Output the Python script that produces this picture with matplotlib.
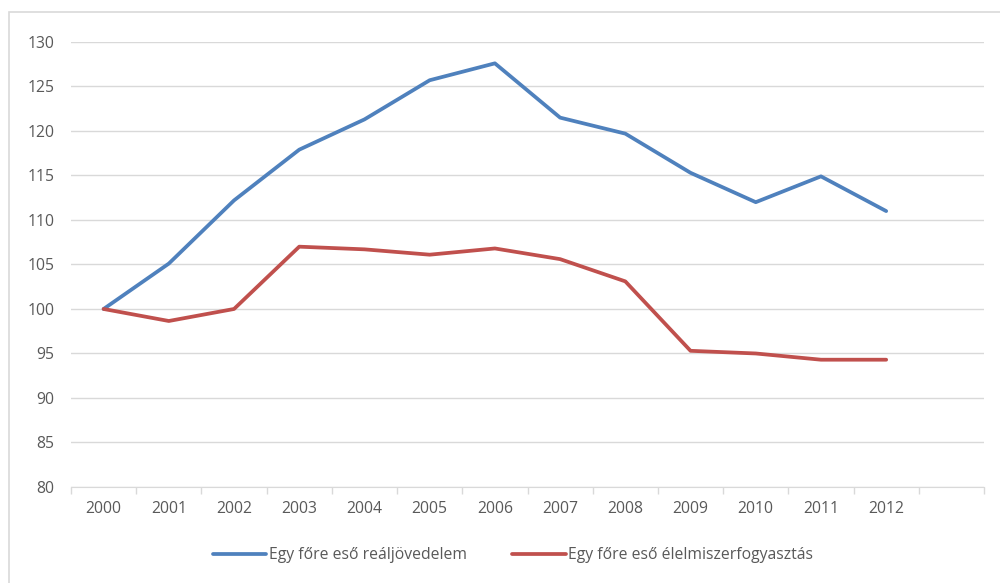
import numpy as np
import matplotlib.pyplot as plt
from matplotlib.patches import Rectangle

years = ["2000", "2001", "2002", "2003", "2004", "2005", "2006",
         "2007", "2008", "2009", "2010", "2011", "2012"]
jovedelem = [100, 105.1, 112.2, 117.9, 121.3, 125.7, 127.6,
             121.5, 119.7, 115.3, 112.0, 114.9, 111.0]
elelmiszer = [100, 98.65, 100.0, 107.0, 106.7, 106.1, 106.8,
              105.6, 103.1, 95.3, 95.0, 94.3, 94.3]
label_1 = "Egy főre eső reáljövedelem"
label_2 = "Egy főre eső élelmiszerfogyasztás"

plt.rcParams['font.family'] = ['Open Sans', 'DejaVu Sans']
fontsize = 11.3
grey = "#595959"
gridc = "#D9D9D9"

fig = plt.figure(figsize=(10, 5.83), dpi=100)
ax = fig.add_axes([0.071, 0.1647, 0.913, 0.7633])

# outer chart frame (runs off the picture to the right and bottom)
fig.patches.append(Rectangle((0.009, -0.1), 1.2, 1.079, transform=fig.transFigure,
                             fill=False, edgecolor=gridc, linewidth=1.2))

x = np.arange(len(years))
ax.plot(x, jovedelem, color="#4F81BD", lw=2.7, label=label_1, solid_capstyle="round")
ax.plot(x, elelmiszer, color="#C0504D", lw=2.7, label=label_2, solid_capstyle="round")

ax.set_xlim(-0.5, len(years) + 0.5)
ax.set_ylim(80, 130)
ax.set_yticks(np.arange(80, 131, 5))
ax.grid(axis="y", color=gridc, lw=1)
ax.set_axisbelow(True)

ax.set_xticks(x)
ax.set_xticklabels(years)
ax.set_xticks(np.arange(-0.5, len(years) + 1, 1), minor=True)
ax.tick_params(axis="x", which="major", length=0, pad=10, labelsize=fontsize, labelcolor=grey)
ax.tick_params(axis="x", which="minor", length=5, color=gridc, width=1)
ax.tick_params(axis="y", length=0, pad=12, labelsize=fontsize, labelcolor=grey)

for s in ["top", "right", "left"]:
    ax.spines[s].set_visible(False)
ax.spines["bottom"].set_color(gridc)

fig.legend(loc="center", bbox_to_anchor=(0.513, 1 - 555 / 583), ncol=2, frameon=False,
           fontsize=fontsize, labelcolor=grey, handlelength=3.4, handletextpad=0.15,
           columnspacing=2.9)

plt.savefig("out.png", dpi=100)
